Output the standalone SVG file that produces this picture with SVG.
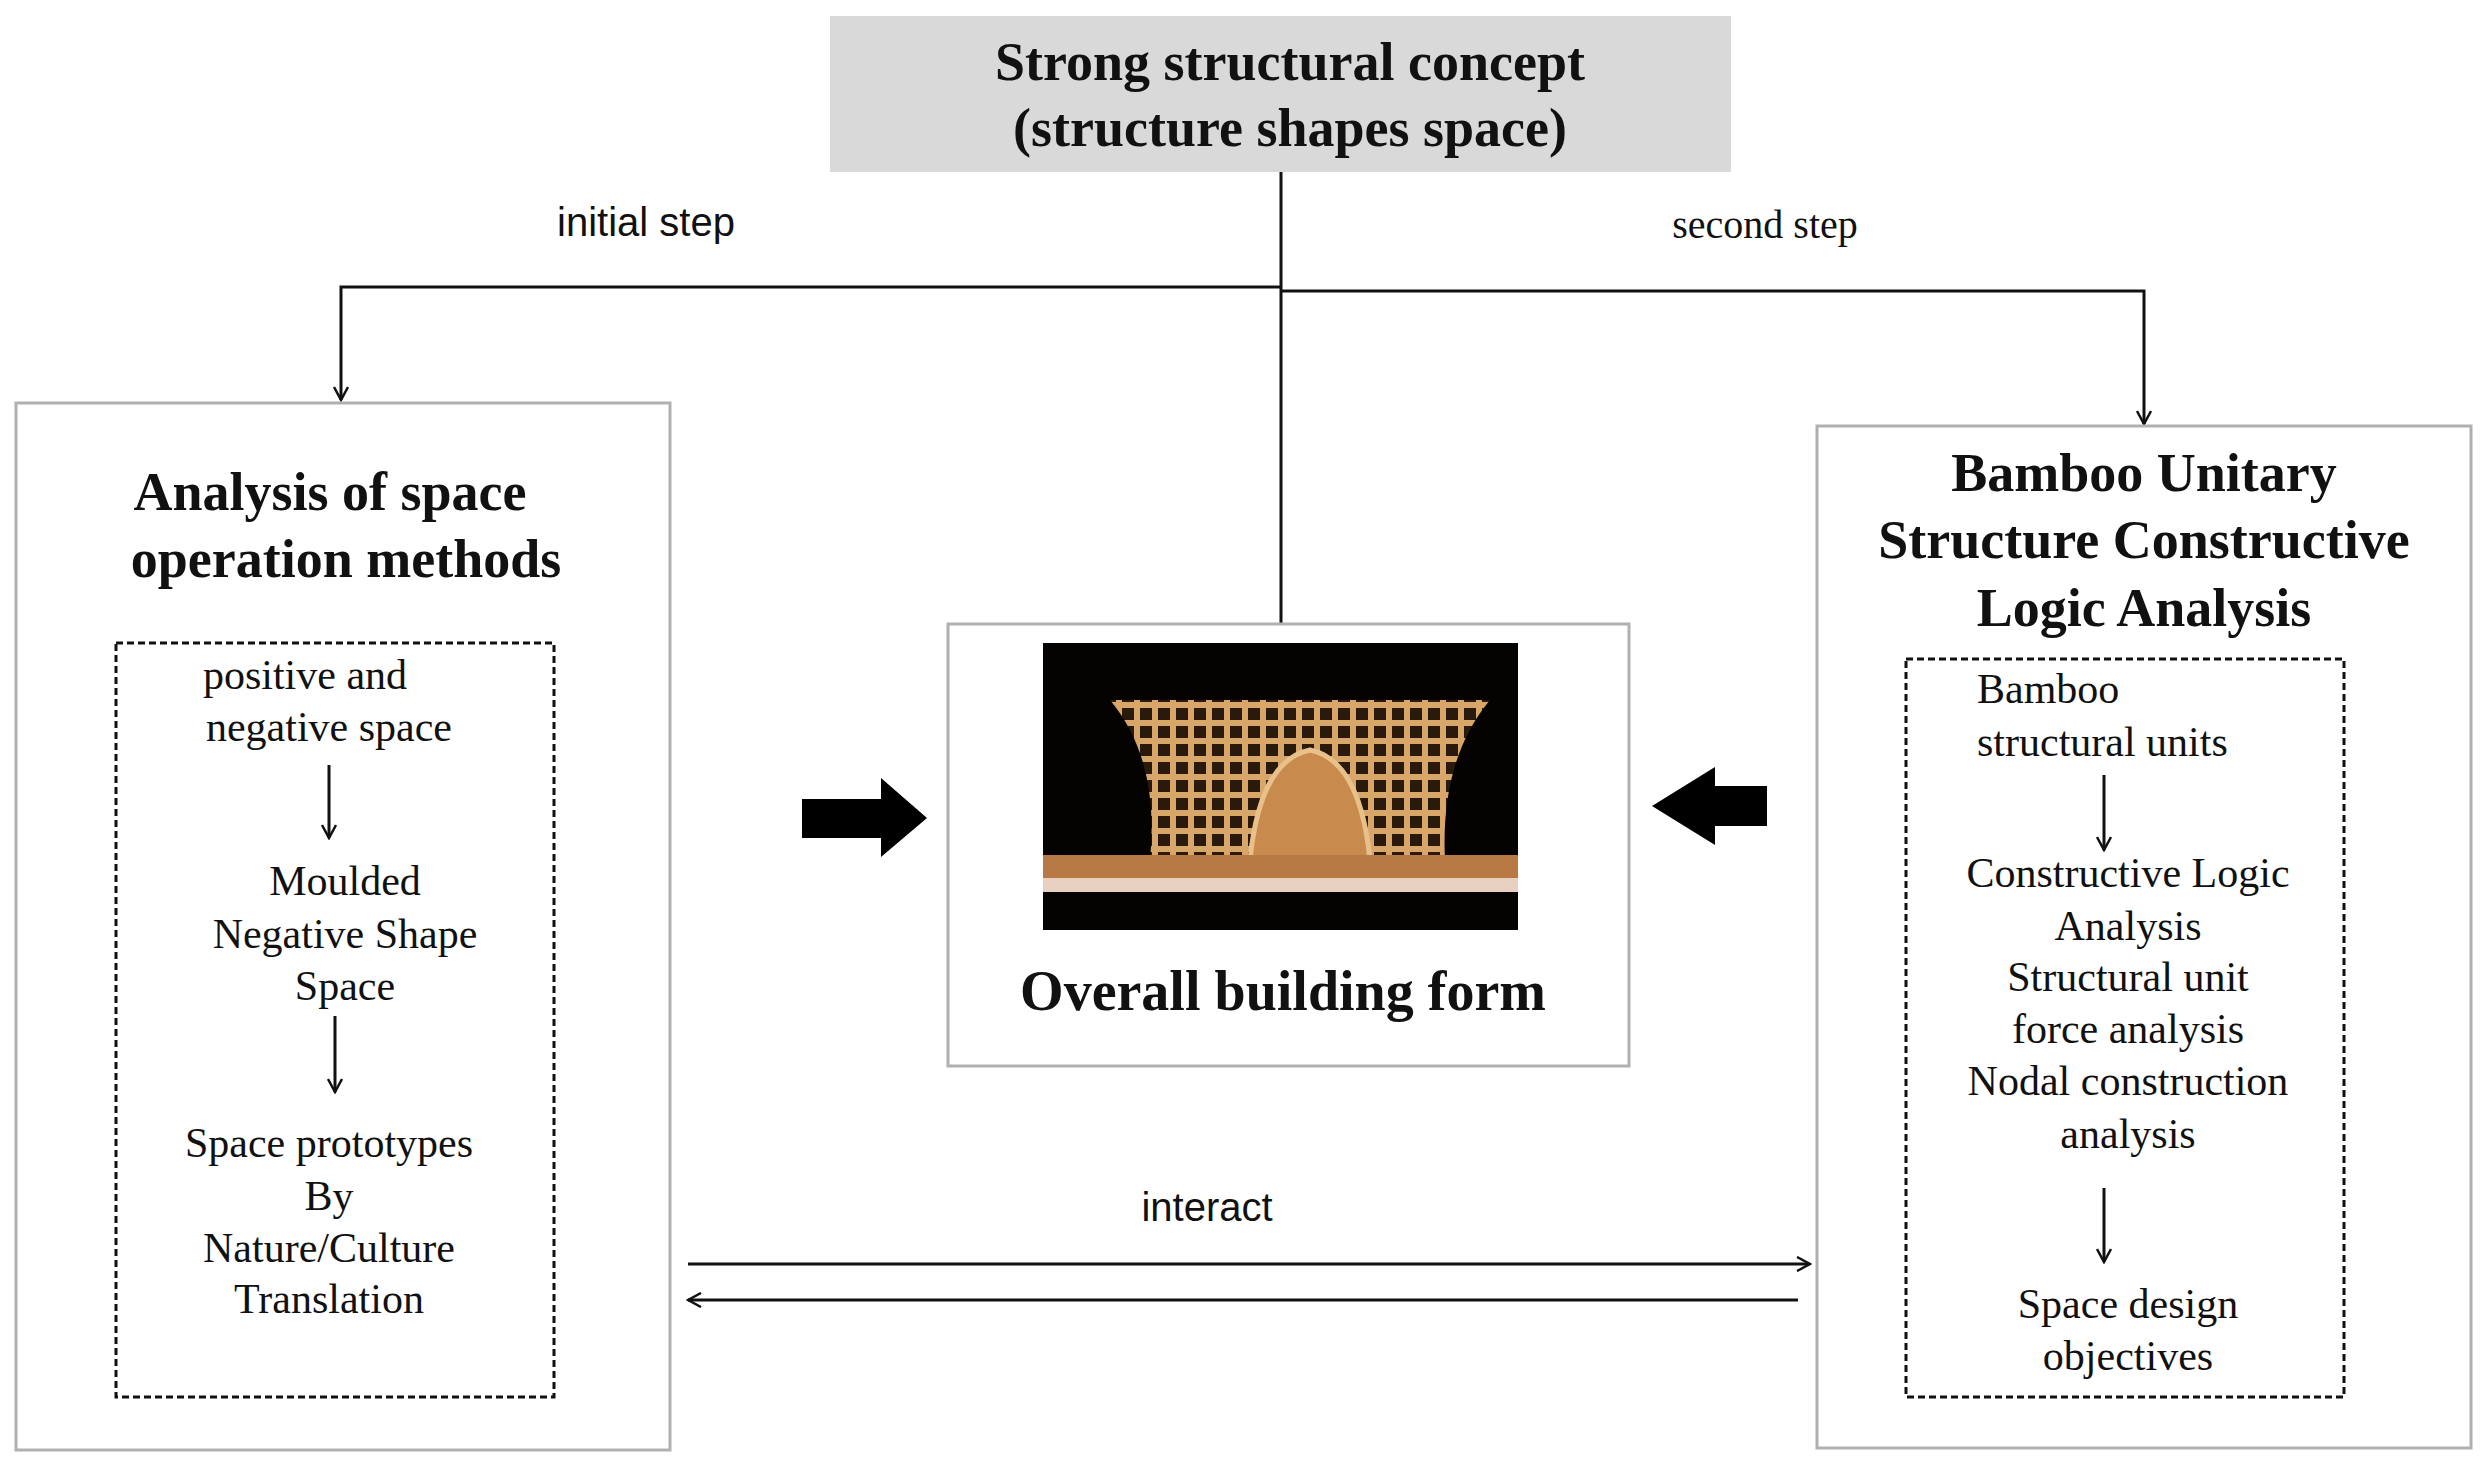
<svg xmlns="http://www.w3.org/2000/svg" width="2490" height="1475" viewBox="0 0 2490 1475">
<style>
.t{font-family:"Liberation Serif",serif;font-size:42px;fill:#111;text-anchor:middle}
.h{font-family:"Liberation Serif",serif;font-weight:bold;font-size:54px;fill:#111;text-anchor:middle}
.s{font-family:"Liberation Sans",sans-serif;font-size:40px;fill:#111;text-anchor:middle}
.ln{stroke:#111;stroke-width:3;fill:none}
.box{fill:#fff;stroke:#b0b0b0;stroke-width:3}
.dash{fill:none;stroke:#111;stroke-width:3;stroke-dasharray:7 4}
</style>
<defs>
<marker id="a" markerWidth="16" markerHeight="16" refX="14" refY="8" orient="auto" markerUnits="userSpaceOnUse"><path d="M1,1 L14,8 L1,15" fill="none" stroke="#111" stroke-width="2.5"/></marker>
<pattern id="grid" width="18" height="18" patternUnits="userSpaceOnUse"><rect width="18" height="18" fill="#2a1a0c"/><rect width="6" height="18" fill="#d9a66a"/><rect width="18" height="6" fill="#d9a66a"/></pattern>
</defs>
<g id="top"><rect x="830" y="16" width="901" height="156" fill="#d9d9d9"/>
<text class="h" x="1290" y="80">Strong structural concept</text>
<text class="h" x="1290" y="146">(structure shapes space)</text></g>
<g id="connectors">
<line class="ln" x1="1281" y1="172" x2="1281" y2="643" marker-end="url(#a)"/>
<polyline class="ln" points="1281,287 341,287 341,400" marker-end="url(#a)"/>
<polyline class="ln" points="1281,291 2144,291 2144,424" marker-end="url(#a)"/>
<line class="ln" x1="688" y1="1264" x2="1810" y2="1264" marker-end="url(#a)"/>
<line class="ln" x1="1798" y1="1300" x2="688" y2="1300" marker-end="url(#a)"/>
<path d="M802,799 H881 V778 L927,818 L881,857 V838 H802 Z" fill="#000"/>
<path d="M1767,786 H1715 V767 L1652,806 L1715,845 V826 H1767 Z" fill="#000"/>
<text class="s" x="646" y="236">initial step</text>
<text class="t" x="1765" y="238" style="font-size:40px">second step</text>
<text class="s" x="1207" y="1221">interact</text>
</g>
<g id="left"><rect class="box" x="16" y="403" width="654" height="1047"/>
<text class="h" x="330" y="510">Analysis of space</text>
<text class="h" x="346" y="577">operation methods</text>
<rect class="dash" x="116" y="643" width="438" height="754"/>
<text class="t" x="305" y="689">positive and</text>
<text class="t" x="329" y="741">negative space</text>
<line class="ln" x1="329" y1="765" x2="329" y2="838" marker-end="url(#a)"/>
<text class="t" x="345" y="895">Moulded</text>
<text class="t" x="345" y="948">Negative Shape</text>
<text class="t" x="345" y="1000">Space</text>
<line class="ln" x1="335" y1="1016" x2="335" y2="1092" marker-end="url(#a)"/>
<text class="t" x="329" y="1157">Space prototypes</text>
<text class="t" x="329" y="1210">By</text>
<text class="t" x="329" y="1262">Nature/Culture</text>
<text class="t" x="329" y="1313">Translation</text></g>
<g id="center"><rect class="box" x="948" y="624" width="681" height="442"/>
<rect x="1043" y="643" width="475" height="287" fill="#050302"/>
<path d="M1110,700 L1490,700 Q1440,760 1445,860 L1150,860 Q1160,760 1110,700 Z" fill="url(#grid)"/>
<path d="M1250,860 Q1260,760 1310,750 Q1360,760 1370,860 Z" fill="#c98a4e" stroke="#e8c08a" stroke-width="5"/>
<path d="M1043,855 L1518,855 L1518,878 L1043,878 Z" fill="#b87a45"/>
<rect x="1043" y="878" width="475" height="14" fill="#e8d0c0"/>
<text class="h" x="1283" y="1010" style="font-size:56px">Overall building form</text></g>
<g id="right"><rect class="box" x="1817" y="426" width="654" height="1022"/>
<text class="h" x="2144" y="491">Bamboo Unitary</text>
<text class="h" x="2144" y="558">Structure  Constructive</text>
<text class="h" x="2144" y="626">Logic Analysis</text>
<rect class="dash" x="1906" y="659" width="438" height="738"/>
<text class="t" x="1977" y="703" style="text-anchor:start">Bamboo</text>
<text class="t" x="1977" y="756" style="text-anchor:start">structural units</text>
<line class="ln" x1="2104" y1="775" x2="2104" y2="850" marker-end="url(#a)"/>
<text class="t" x="2128" y="887">Constructive Logic</text>
<text class="t" x="2128" y="940">Analysis</text>
<text class="t" x="2128" y="991">Structural unit</text>
<text class="t" x="2128" y="1043">force analysis</text>
<text class="t" x="2128" y="1095">Nodal construction</text>
<text class="t" x="2128" y="1148">analysis</text>
<line class="ln" x1="2104" y1="1188" x2="2104" y2="1262" marker-end="url(#a)"/>
<text class="t" x="2128" y="1318">Space design</text>
<text class="t" x="2128" y="1370">objectives</text></g>
</svg>
